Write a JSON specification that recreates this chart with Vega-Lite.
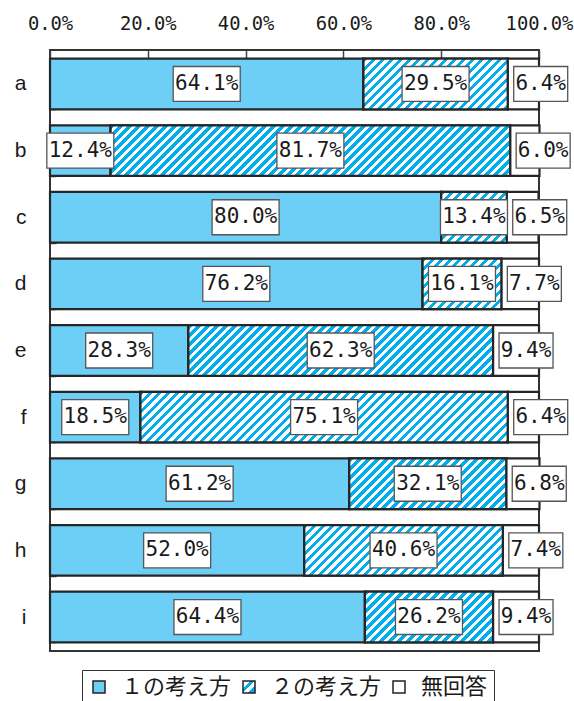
{
  "$schema": "https://vega.github.io/schema/vega-lite/v6.json",
  "width": 489,
  "height": 601,
  "autosize": {"type": "none"},
  "padding": {"left": 50, "top": 50, "right": 35, "bottom": 50},
  "background": "white",
  "config": {
    "view": {"stroke": "#333333", "strokeWidth": 2},
    "axis": {"domain": false, "grid": false}
  },
  "params": [
    {"name": "hatchStops", "value": [
      {"offset":0,"color":"#00aeef"},
      {"offset":0.01,"color":"#00aeef"},{"offset":0.01,"color":"#fff"},{"offset":0.02,"color":"#fff"},{"offset":0.02,"color":"#00aeef"},
      {"offset":0.03,"color":"#00aeef"},{"offset":0.03,"color":"#fff"},{"offset":0.04,"color":"#fff"},{"offset":0.04,"color":"#00aeef"},
      {"offset":0.05,"color":"#00aeef"},{"offset":0.05,"color":"#fff"},{"offset":0.06,"color":"#fff"},{"offset":0.06,"color":"#00aeef"},
      {"offset":0.07,"color":"#00aeef"},{"offset":0.07,"color":"#fff"},{"offset":0.08,"color":"#fff"},{"offset":0.08,"color":"#00aeef"},
      {"offset":0.09,"color":"#00aeef"},{"offset":0.09,"color":"#fff"},{"offset":0.1,"color":"#fff"},{"offset":0.1,"color":"#00aeef"},
      {"offset":0.11,"color":"#00aeef"},{"offset":0.11,"color":"#fff"},{"offset":0.12,"color":"#fff"},{"offset":0.12,"color":"#00aeef"},
      {"offset":0.13,"color":"#00aeef"},{"offset":0.13,"color":"#fff"},{"offset":0.14,"color":"#fff"},{"offset":0.14,"color":"#00aeef"},
      {"offset":0.15,"color":"#00aeef"},{"offset":0.15,"color":"#fff"},{"offset":0.16,"color":"#fff"},{"offset":0.16,"color":"#00aeef"},
      {"offset":0.17,"color":"#00aeef"},{"offset":0.17,"color":"#fff"},{"offset":0.18,"color":"#fff"},{"offset":0.18,"color":"#00aeef"},
      {"offset":0.19,"color":"#00aeef"},{"offset":0.19,"color":"#fff"},{"offset":0.2,"color":"#fff"},{"offset":0.2,"color":"#00aeef"},
      {"offset":0.21,"color":"#00aeef"},{"offset":0.21,"color":"#fff"},{"offset":0.22,"color":"#fff"},{"offset":0.22,"color":"#00aeef"},
      {"offset":0.23,"color":"#00aeef"},{"offset":0.23,"color":"#fff"},{"offset":0.24,"color":"#fff"},{"offset":0.24,"color":"#00aeef"},
      {"offset":0.25,"color":"#00aeef"},{"offset":0.25,"color":"#fff"},{"offset":0.26,"color":"#fff"},{"offset":0.26,"color":"#00aeef"},
      {"offset":0.27,"color":"#00aeef"},{"offset":0.27,"color":"#fff"},{"offset":0.28,"color":"#fff"},{"offset":0.28,"color":"#00aeef"},
      {"offset":0.29,"color":"#00aeef"},{"offset":0.29,"color":"#fff"},{"offset":0.3,"color":"#fff"},{"offset":0.3,"color":"#00aeef"},
      {"offset":0.31,"color":"#00aeef"},{"offset":0.31,"color":"#fff"},{"offset":0.32,"color":"#fff"},{"offset":0.32,"color":"#00aeef"},
      {"offset":0.33,"color":"#00aeef"},{"offset":0.33,"color":"#fff"},{"offset":0.34,"color":"#fff"},{"offset":0.34,"color":"#00aeef"},
      {"offset":0.35,"color":"#00aeef"},{"offset":0.35,"color":"#fff"},{"offset":0.36,"color":"#fff"},{"offset":0.36,"color":"#00aeef"},
      {"offset":0.37,"color":"#00aeef"},{"offset":0.37,"color":"#fff"},{"offset":0.38,"color":"#fff"},{"offset":0.38,"color":"#00aeef"},
      {"offset":0.39,"color":"#00aeef"},{"offset":0.39,"color":"#fff"},{"offset":0.4,"color":"#fff"},{"offset":0.4,"color":"#00aeef"},
      {"offset":0.41,"color":"#00aeef"},{"offset":0.41,"color":"#fff"},{"offset":0.42,"color":"#fff"},{"offset":0.42,"color":"#00aeef"},
      {"offset":0.43,"color":"#00aeef"},{"offset":0.43,"color":"#fff"},{"offset":0.44,"color":"#fff"},{"offset":0.44,"color":"#00aeef"},
      {"offset":0.45,"color":"#00aeef"},{"offset":0.45,"color":"#fff"},{"offset":0.46,"color":"#fff"},{"offset":0.46,"color":"#00aeef"},
      {"offset":0.47,"color":"#00aeef"},{"offset":0.47,"color":"#fff"},{"offset":0.48,"color":"#fff"},{"offset":0.48,"color":"#00aeef"},
      {"offset":0.49,"color":"#00aeef"},{"offset":0.49,"color":"#fff"},{"offset":0.5,"color":"#fff"},{"offset":0.5,"color":"#00aeef"},
      {"offset":0.51,"color":"#00aeef"},{"offset":0.51,"color":"#fff"},{"offset":0.52,"color":"#fff"},{"offset":0.52,"color":"#00aeef"},
      {"offset":0.53,"color":"#00aeef"},{"offset":0.53,"color":"#fff"},{"offset":0.54,"color":"#fff"},{"offset":0.54,"color":"#00aeef"},
      {"offset":0.55,"color":"#00aeef"},{"offset":0.55,"color":"#fff"},{"offset":0.56,"color":"#fff"},{"offset":0.56,"color":"#00aeef"},
      {"offset":0.57,"color":"#00aeef"},{"offset":0.57,"color":"#fff"},{"offset":0.58,"color":"#fff"},{"offset":0.58,"color":"#00aeef"},
      {"offset":0.59,"color":"#00aeef"},{"offset":0.59,"color":"#fff"},{"offset":0.6,"color":"#fff"},{"offset":0.6,"color":"#00aeef"},
      {"offset":0.61,"color":"#00aeef"},{"offset":0.61,"color":"#fff"},{"offset":0.62,"color":"#fff"},{"offset":0.62,"color":"#00aeef"},
      {"offset":0.63,"color":"#00aeef"},{"offset":0.63,"color":"#fff"},{"offset":0.64,"color":"#fff"},{"offset":0.64,"color":"#00aeef"},
      {"offset":0.65,"color":"#00aeef"},{"offset":0.65,"color":"#fff"},{"offset":0.66,"color":"#fff"},{"offset":0.66,"color":"#00aeef"},
      {"offset":0.67,"color":"#00aeef"},{"offset":0.67,"color":"#fff"},{"offset":0.68,"color":"#fff"},{"offset":0.68,"color":"#00aeef"},
      {"offset":0.69,"color":"#00aeef"},{"offset":0.69,"color":"#fff"},{"offset":0.7,"color":"#fff"},{"offset":0.7,"color":"#00aeef"},
      {"offset":0.71,"color":"#00aeef"},{"offset":0.71,"color":"#fff"},{"offset":0.72,"color":"#fff"},{"offset":0.72,"color":"#00aeef"},
      {"offset":0.73,"color":"#00aeef"},{"offset":0.73,"color":"#fff"},{"offset":0.74,"color":"#fff"},{"offset":0.74,"color":"#00aeef"},
      {"offset":0.75,"color":"#00aeef"},{"offset":0.75,"color":"#fff"},{"offset":0.76,"color":"#fff"},{"offset":0.76,"color":"#00aeef"},
      {"offset":0.77,"color":"#00aeef"},{"offset":0.77,"color":"#fff"},{"offset":0.78,"color":"#fff"},{"offset":0.78,"color":"#00aeef"},
      {"offset":0.79,"color":"#00aeef"},{"offset":0.79,"color":"#fff"},{"offset":0.8,"color":"#fff"},{"offset":0.8,"color":"#00aeef"},
      {"offset":0.81,"color":"#00aeef"},{"offset":0.81,"color":"#fff"},{"offset":0.82,"color":"#fff"},{"offset":0.82,"color":"#00aeef"},
      {"offset":0.83,"color":"#00aeef"},{"offset":0.83,"color":"#fff"},{"offset":0.84,"color":"#fff"},{"offset":0.84,"color":"#00aeef"},
      {"offset":0.85,"color":"#00aeef"},{"offset":0.85,"color":"#fff"},{"offset":0.86,"color":"#fff"},{"offset":0.86,"color":"#00aeef"},
      {"offset":0.87,"color":"#00aeef"},{"offset":0.87,"color":"#fff"},{"offset":0.88,"color":"#fff"},{"offset":0.88,"color":"#00aeef"},
      {"offset":0.89,"color":"#00aeef"},{"offset":0.89,"color":"#fff"},{"offset":0.9,"color":"#fff"},{"offset":0.9,"color":"#00aeef"},
      {"offset":0.91,"color":"#00aeef"},{"offset":0.91,"color":"#fff"},{"offset":0.92,"color":"#fff"},{"offset":0.92,"color":"#00aeef"},
      {"offset":0.93,"color":"#00aeef"},{"offset":0.93,"color":"#fff"},{"offset":0.94,"color":"#fff"},{"offset":0.94,"color":"#00aeef"},
      {"offset":0.95,"color":"#00aeef"},{"offset":0.95,"color":"#fff"},{"offset":0.96,"color":"#fff"},{"offset":0.96,"color":"#00aeef"},
      {"offset":0.97,"color":"#00aeef"},{"offset":0.97,"color":"#fff"},{"offset":0.98,"color":"#fff"},{"offset":0.98,"color":"#00aeef"},
      {"offset":0.99,"color":"#00aeef"},{"offset":0.99,"color":"#fff"},{"offset":1,"color":"#fff"}
    ]}
  ],
  "data": {"values": [
    {"q": "a", "cat": "１の考え方", "k": 1, "value": 0.641},
    {"q": "a", "cat": "２の考え方", "k": 2, "value": 0.295},
    {"q": "a", "cat": "無回答", "k": 3, "value": 0.064},
    {"q": "b", "cat": "１の考え方", "k": 1, "value": 0.124},
    {"q": "b", "cat": "２の考え方", "k": 2, "value": 0.817},
    {"q": "b", "cat": "無回答", "k": 3, "value": 0.060},
    {"q": "c", "cat": "１の考え方", "k": 1, "value": 0.800},
    {"q": "c", "cat": "２の考え方", "k": 2, "value": 0.134},
    {"q": "c", "cat": "無回答", "k": 3, "value": 0.065},
    {"q": "d", "cat": "１の考え方", "k": 1, "value": 0.762},
    {"q": "d", "cat": "２の考え方", "k": 2, "value": 0.161},
    {"q": "d", "cat": "無回答", "k": 3, "value": 0.077},
    {"q": "e", "cat": "１の考え方", "k": 1, "value": 0.283},
    {"q": "e", "cat": "２の考え方", "k": 2, "value": 0.623},
    {"q": "e", "cat": "無回答", "k": 3, "value": 0.094},
    {"q": "f", "cat": "１の考え方", "k": 1, "value": 0.185},
    {"q": "f", "cat": "２の考え方", "k": 2, "value": 0.751},
    {"q": "f", "cat": "無回答", "k": 3, "value": 0.064},
    {"q": "g", "cat": "１の考え方", "k": 1, "value": 0.612},
    {"q": "g", "cat": "２の考え方", "k": 2, "value": 0.321},
    {"q": "g", "cat": "無回答", "k": 3, "value": 0.068},
    {"q": "h", "cat": "１の考え方", "k": 1, "value": 0.520},
    {"q": "h", "cat": "２の考え方", "k": 2, "value": 0.406},
    {"q": "h", "cat": "無回答", "k": 3, "value": 0.074},
    {"q": "i", "cat": "１の考え方", "k": 1, "value": 0.644},
    {"q": "i", "cat": "２の考え方", "k": 2, "value": 0.262},
    {"q": "i", "cat": "無回答", "k": 3, "value": 0.094}
  ]},
  "encoding": {
    "y": {
      "field": "q", "type": "nominal", "title": null,
      "scale": {"domain": ["a","b","c","d","e","f","g","h","i"], "paddingInner": 0.24, "paddingOuter": 0.13},
      "axis": {"labelFont": "Liberation Sans", "labelFontSize": 21, "labelColor": "#1a1a1a", "labelPadding": 30, "ticks": true, "tickBand": "extent", "tickSize": -6, "tickColor": "#444444", "tickWidth": 1.5, "labelAngle": 0}
    }
  },
  "layer": [
    {
      "mark": {"type": "bar", "stroke": "#262626", "strokeWidth": 2.2},
      "encoding": {
        "x": {
          "field": "value", "type": "quantitative", "stack": "zero", "title": null,
          "scale": {"domain": [0, 1], "nice": false},
          "axis": {"orient": "top", "values": [0, 0.2, 0.4, 0.6, 0.8, 1], "format": ".1%", "labelFont": "DejaVu Sans Mono", "labelFontSize": 18.8, "labelColor": "#1a1a1a", "labelPadding": 26, "ticks": true, "tickSize": -9, "tickColor": "#444444", "tickWidth": 1.5, "labelFlush": false}
        },
        "fill": {
          "field": "cat", "type": "nominal",
          "scale": {"domain": ["１の考え方", "２の考え方", "無回答"], "range": ["#6dcff6", {"expr": "{gradient: 'linear', x1: 0, y1: 0, x2: 1, y2: 1, stops: [{offset: 0, color: '#fff'}, {offset: 0.3, color: '#fff'}, {offset: 0.3, color: '#00aeef'}, {offset: 0.5, color: '#00aeef'}, {offset: 0.5, color: '#fff'}, {offset: 0.68, color: '#fff'}, {offset: 0.68, color: '#00aeef'}, {offset: 1, color: '#00aeef'}]}"}, "#ffffff"]},
          "legend": {"orient": "none", "legendX": 32, "legendY": 620, "direction": "horizontal", "title": null, "symbolType": "square", "symbolSize": 144, "symbolStrokeColor": "#222222", "symbolStrokeWidth": 1.5, "labelFont": "Noto Sans CJK JP", "labelFontSize": 22, "labelColor": "#1a1a1a", "labelOffset": 11, "columnPadding": 6, "strokeColor": "#333333", "padding": 6, "labelLimit": 300}
        },
        "order": {"field": "k", "type": "quantitative", "sort": "ascending"}
      }
    },
    {
      "transform": [
        {"stack": "value", "groupby": ["q"], "sort": [{"field": "k", "order": "ascending"}], "as": ["v0", "v1"]},
        {"filter": "datum.k === 2"}
      ],
      "mark": {"type": "bar", "stroke": "#262626", "strokeWidth": 2.2},
      "encoding": {
        "x": {"field": "v0", "type": "quantitative", "title": null},
        "x2": {"field": "v1"},
        "fill": {"value": {"expr": "{gradient: 'linear', x1: 0, y1: 0, x2: 450*(datum.v1-datum.v0)*width/(pow((datum.v1-datum.v0)*width,2)+pow(bandwidth('y'),2)), y2: 450*bandwidth('y')/(pow((datum.v1-datum.v0)*width,2)+pow(bandwidth('y'),2)), stops: hatchStops}"}}
      }
    },
    {
      "mark": {"type": "point", "filled": true, "fill": "white", "stroke": "#555555", "strokeWidth": 1.3, "size": 4489},
      "encoding": {
        "x": {"field": "value", "type": "quantitative", "stack": "zero", "bandPosition": 0.5, "title": null},
        "detail": {"field": "k", "type": "nominal"},
        "order": {"field": "k", "type": "quantitative", "sort": "ascending"},
        "shape": {"condition": {"test": "datum.value < 0.1", "value": "M-0.806,-0.522H0.806V0.522H-0.806Z"}, "value": "M-1,-0.522H1V0.522H-1Z"},
        "opacity": {"condition": {"test": "datum.k === 3", "value": 0}, "value": 1}
      }
    },
    {
      "mark": {"type": "text", "font": "DejaVu Sans Mono", "fontSize": 21, "color": "#1a1a1a", "align": "center", "baseline": "middle"},
      "encoding": {
        "x": {"field": "value", "type": "quantitative", "stack": "zero", "bandPosition": 0.5, "title": null},
        "detail": {"field": "k", "type": "nominal"},
        "order": {"field": "k", "type": "quantitative", "sort": "ascending"},
        "text": {"condition": {"test": "datum.k === 3", "value": ""}, "field": "value", "type": "quantitative", "format": ".1%"}
      }
    },
    {
      "transform": [
        {"stack": "value", "groupby": ["q"], "sort": [{"field": "k", "order": "ascending"}], "as": ["v0", "v1"]},
        {"filter": "datum.k === 3"}
      ],
      "mark": {"type": "point", "filled": true, "fill": "white", "stroke": "#555555", "strokeWidth": 1.3, "size": 4489, "opacity": 1, "xOffset": 33, "shape": "M-0.806,-0.522H0.806V0.522H-0.806Z"},
      "encoding": {
        "x": {"field": "v0", "type": "quantitative", "title": null}
      }
    },
    {
      "transform": [
        {"stack": "value", "groupby": ["q"], "sort": [{"field": "k", "order": "ascending"}], "as": ["v0", "v1"]},
        {"filter": "datum.k === 3"}
      ],
      "mark": {"type": "text", "font": "DejaVu Sans Mono", "fontSize": 21, "color": "#1a1a1a", "align": "center", "baseline": "middle", "dx": 33},
      "encoding": {
        "x": {"field": "v0", "type": "quantitative", "title": null},
        "text": {"field": "value", "type": "quantitative", "format": ".1%"}
      }
    }
  ]
}
